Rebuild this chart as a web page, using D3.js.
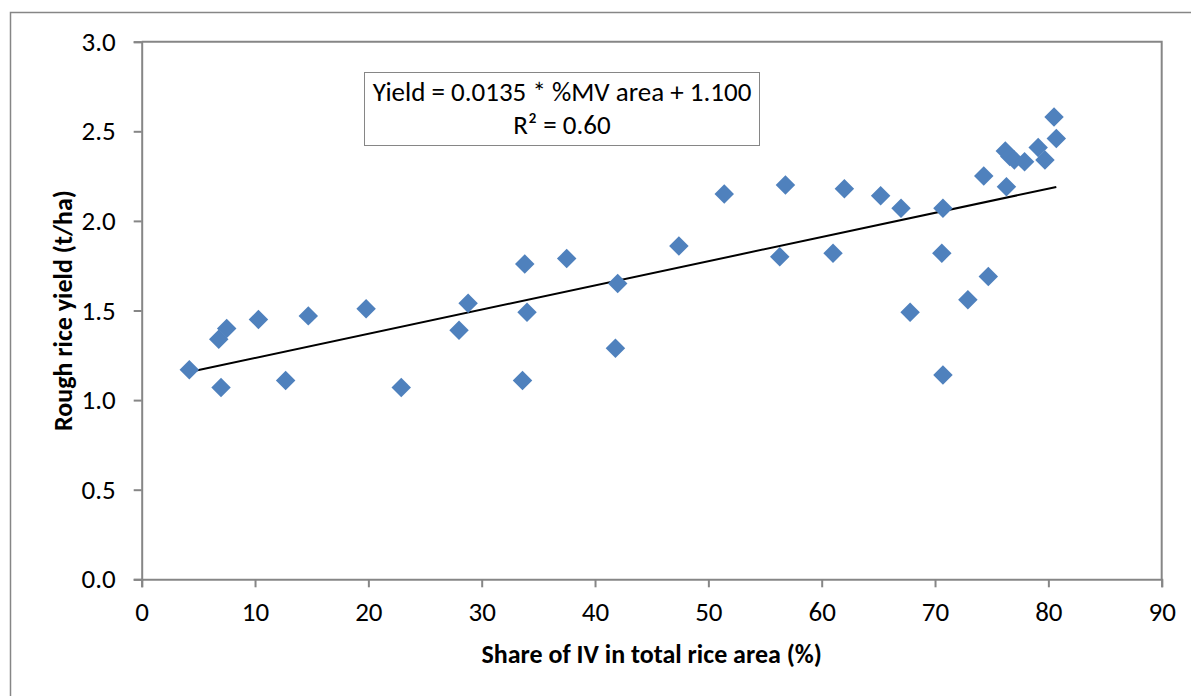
<!DOCTYPE html>
<html>
<head>
<meta charset="utf-8">
<script src="https://cdn.jsdelivr.net/npm/d3@7"></script>
<style>
    html, body { margin: 0; padding: 0; background: #fff; }
    svg { display: block; }
    text { font-family: Carlito, Calibri, Lato, sans-serif; fill: #000; }
</style>
</head>
<body>
<div id="chart"></div>
<script>
// Share of IV in total rice area (%)
const ivShare = [
    4.2, 6.8, 7.5, 7.0, 10.3, 12.7, 14.7, 19.8, 22.9, 28.0,
    28.8, 33.6, 33.8, 34.0, 37.5, 41.8, 42.0, 47.4, 51.4, 56.8,
    56.3, 61.0, 62.0, 65.2, 67.0, 70.7, 70.6, 67.8, 74.7, 72.9,
    70.7, 74.3, 76.3, 76.2, 76.6, 77.0, 77.9, 79.1, 79.7, 80.5,
    80.7
];
// Rough rice yield (t/ha)
const riceYield = [
    1.17, 1.34, 1.40, 1.07, 1.45, 1.11, 1.47, 1.51, 1.07, 1.39,
    1.54, 1.11, 1.76, 1.49, 1.79, 1.29, 1.65, 1.86, 2.15, 2.20,
    1.80, 1.82, 2.18, 2.14, 2.07, 2.07, 1.82, 1.49, 1.69, 1.56,
    1.14, 2.25, 2.19, 2.39, 2.36, 2.34, 2.33, 2.41, 2.34, 2.58,
    2.46
];
const xTicks = [0, 10, 20, 30, 40, 50, 60, 70, 80, 90];
const yTicks = [0, 0.5, 1.0, 1.5, 2.0, 2.5, 3.0];
// Trend line from the equation label
const trendSlope = 0.0135;
const trendIntercept = 1.100;
const equationLines = ["Yield = 0.0135 * %MV area + 1.100", "R² = 0.60"];

const width = 1191;
const height = 696;
const margin = { top: 41.7, right: 29.3, bottom: 116.7, left: 141.7 };
const axisColor = "#868686";
const fontFamily = "Carlito, Calibri, Lato, sans-serif";

const svg = d3.select("#chart")
    .append("svg")
    .attr("width", width)
    .attr("height", height);

// Chart area border (runs off the picture at right and bottom)
svg.append("rect")
    .attr("x", 10.5)
    .attr("y", 12.5)
    .attr("width", width + 20)
    .attr("height", height + 20)
    .attr("fill", "#fff")
    .attr("stroke", axisColor)
    .attr("stroke-width", 1.5);

const x = d3.scaleLinear().domain([0, 90]).range([margin.left, width - margin.right]);
const y = d3.scaleLinear().domain([0, 3]).range([height - margin.bottom, margin.top]);

// Plot area frame (top and right)
svg.append("path")
    .attr("d", `M${x(0)},${y(3)}H${x(90)}V${y(0)}`)
    .attr("fill", "none")
    .attr("stroke", axisColor)
    .attr("stroke-width", 2);

// Axes
const xAxis = svg.append("g")
    .attr("transform", `translate(0,${y(0)})`)
    .call(d3.axisBottom(x).tickValues(xTicks).tickSize(8).tickPadding(15).tickFormat(d3.format("d")));

const yAxis = svg.append("g")
    .attr("transform", `translate(${x(0)},0)`)
    .call(d3.axisLeft(y).tickValues(yTicks).tickSize(8).tickPadding(18).tickFormat(d3.format(".1f")));

[xAxis, yAxis].forEach(g => {
    g.select(".domain").attr("stroke", axisColor).attr("stroke-width", 2);
    g.selectAll(".tick line").attr("stroke", axisColor).attr("stroke-width", 2);
    g.selectAll(".tick text")
        .attr("fill", "#000")
        .style("font-size", "27px")
        .style("font-family", fontFamily);
});

// Trend line over the range of the data
const xExtent = d3.extent(ivShare);
svg.append("line")
    .attr("x1", x(xExtent[0]))
    .attr("y1", y(trendSlope * xExtent[0] + trendIntercept))
    .attr("x2", x(xExtent[1]))
    .attr("y2", y(trendSlope * xExtent[1] + trendIntercept))
    .attr("stroke", "#000")
    .attr("stroke-width", 2);

// Points (diamonds)
const points = ivShare.map((v, i) => ({ share: v, yield: riceYield[i] }));
const diamond = d3.symbol().type(d3.symbolSquare).size(190);

svg.append("g")
    .selectAll("path")
    .data(points)
    .join("path")
    .attr("d", diamond)
    .attr("transform", d => `translate(${x(d.share)},${y(d.yield)}) rotate(45)`)
    .attr("fill", "#4F81BD");

// Equation box
const box = svg.append("g");
box.append("rect")
    .attr("x", 364.5)
    .attr("y", 72.5)
    .attr("width", 395)
    .attr("height", 73)
    .attr("fill", "#fff")
    .attr("stroke", axisColor)
    .attr("stroke-width", 1);

box.selectAll("text")
    .data(equationLines)
    .join("text")
    .attr("x", 562)
    .attr("y", (d, i) => 101 + i * 33)
    .attr("text-anchor", "middle")
    .style("font-size", "27px")
    .text(d => d);

// Axis titles
svg.append("text")
    .attr("x", (x(0) + x(90)) / 2)
    .attr("y", 662.5)
    .attr("text-anchor", "middle")
    .style("font-size", "26px")
    .style("font-weight", "bold")
    .text("Share of IV in total rice area (%)");

svg.append("text")
    .attr("transform", `translate(72,${(y(0) + y(3)) / 2}) rotate(-90)`)
    .attr("text-anchor", "middle")
    .style("font-size", "26px")
    .style("font-weight", "bold")
    .text("Rough rice yield (t/ha)");
</script>
</body>
</html>
